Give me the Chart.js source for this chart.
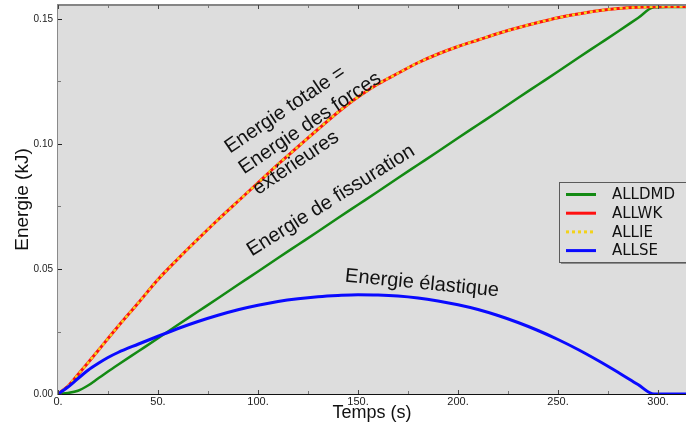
<!DOCTYPE html>
<html lang="fr">
<head>
<meta charset="utf-8">
<title>Energies</title>
<script src="https://cdn.jsdelivr.net/npm/chart.js@4/dist/chart.umd.min.js"></script>
<style>
    html, body { margin: 0; padding: 0; background: #fff; }
    #wrap { width: 686px; height: 427px; position: relative; }
</style>
</head>
<body>
<div id="wrap"><canvas id="energyChart" width="686" height="427"></canvas></div>
<script>
// temps (s)
const timeSteps = [0, 5, 10, 15, 20, 25, 30, 40, 50, 60, 70, 80, 90, 100, 110, 120, 130, 140, 150,
    160, 170, 180, 190, 200, 210, 220, 230, 240, 250, 260, 270, 280, 290, 298, 305, 314];

// énergie de fissuration (kJ)
const damageEnergy = [0, 0.0004, 0.0013, 0.0034, 0.0062, 0.009, 0.0117, 0.017, 0.0223, 0.0277, 0.033,
    0.0383, 0.0437, 0.049, 0.0544, 0.0597, 0.065, 0.0704, 0.0757, 0.081, 0.0864, 0.0917, 0.097, 0.1024,
    0.1077, 0.113, 0.1184, 0.1237, 0.129, 0.1344, 0.1397, 0.145, 0.1504, 0.1547, 0.1548, 0.1548];

// travail des forces extérieures (kJ)
const externalWork = [0, 0.0032, 0.0078, 0.0125, 0.0173, 0.0222, 0.027, 0.0363, 0.0458, 0.0541, 0.062,
    0.0697, 0.0771, 0.0845, 0.0919, 0.0989, 0.1059, 0.1127, 0.1188, 0.124, 0.1283, 0.1325, 0.136, 0.139,
    0.1416, 0.1442, 0.1465, 0.1486, 0.1505, 0.152, 0.1533, 0.1542, 0.1547, 0.1549, 0.155, 0.155];

// énergie interne = énergie totale
const internalEnergy = externalWork;

// énergie élastique (kJ)
const strainEnergy = [0, 0.0028, 0.0062, 0.0095, 0.0122, 0.0146, 0.0166, 0.0199, 0.0231, 0.0262, 0.029,
    0.0315, 0.0337, 0.0355, 0.037, 0.0381, 0.0389, 0.0394, 0.0397, 0.0396, 0.0392, 0.0384, 0.0372, 0.0357,
    0.0338, 0.0314, 0.0286, 0.0254, 0.0218, 0.0178, 0.0134, 0.0087, 0.0038, 0, 0, 0];

const seriesLabels = ['ALLDMD', 'ALLWK', 'ALLIE', 'ALLSE'];
const yTickValues = [0, 0.05, 0.10, 0.15];
const xTickValues = [0, 50, 100, 150, 200, 250, 300];

const notes = [
    { lines: ['Energie totale =', 'Energie des forces', 'extérieures'], t: 86, e: 0.0961, angle: -34, lineGap: 25 },
    { lines: ['Energie de fissuration'], t: 96.9, e: 0.055, angle: -32, lineGap: 0 },
    { lines: ['Energie élastique'], t: 143.3, e: 0.045, angle: 5.5, lineGap: 0 }
];

const PLOT_BG = '#dddddd';

function toPoints(values) {
    return timeSteps.map((t, i) => ({ x: t, y: values[i] }));
}

const plotFrame = {
    id: 'plotFrame',
    beforeDatasetsDraw(chart) {
        const { ctx, chartArea: a } = chart;
        ctx.save();
        ctx.fillStyle = PLOT_BG;
        ctx.fillRect(a.left, a.top, a.right - a.left, a.bottom - a.top);
        ctx.restore();
    },
    afterDatasetsDraw(chart) {
        const { ctx, chartArea: a, scales } = chart;
        ctx.save();
        // bord supérieur
        ctx.strokeStyle = '#858585';
        ctx.lineWidth = 2;
        ctx.beginPath();
        ctx.moveTo(a.left, a.top);
        ctx.lineTo(a.right, a.top);
        ctx.stroke();

        // petites graduations intérieures
        ctx.lineWidth = 1;
        scales.x.ticks.forEach(tick => {
            const px = Math.round(scales.x.getPixelForValue(tick.value)) + 0.5;
            const major = tick.value % 50 === 0;
            ctx.strokeStyle = major ? '#444' : '#777';
            const len = major ? 4 : 3;
            ctx.beginPath();
            ctx.moveTo(px, a.top);
            ctx.lineTo(px, a.top + len);
            ctx.moveTo(px, a.bottom);
            ctx.lineTo(px, a.bottom - len);
            ctx.stroke();
        });
        scales.y.ticks.forEach(tick => {
            const py = Math.round(scales.y.getPixelForValue(tick.value)) + 0.5;
            const major = Math.abs(tick.value * 20 - Math.round(tick.value * 20)) < 1e-6;
            ctx.strokeStyle = major ? '#222' : '#777';
            ctx.beginPath();
            ctx.moveTo(a.left, py);
            ctx.lineTo(a.left + (major ? 4 : 3), py);
            ctx.stroke();
        });
        ctx.restore();
    }
};

const noteLabels = {
    id: 'noteLabels',
    afterDatasetsDraw(chart) {
        const { ctx, scales } = chart;
        ctx.save();
        ctx.fillStyle = '#111';
        ctx.font = '20px "Liberation Sans", Arial, sans-serif';
        ctx.textAlign = 'left';
        ctx.textBaseline = 'alphabetic';
        notes.forEach(note => {
            const x = scales.x.getPixelForValue(note.t);
            const y = scales.y.getPixelForValue(note.e);
            ctx.save();
            ctx.translate(x, y);
            ctx.rotate(note.angle * Math.PI / 180);
            note.lines.forEach((line, i) => ctx.fillText(line, 0, i * note.lineGap));
            ctx.restore();
        });
        ctx.restore();
    }
};

const boxLegend = {
    id: 'boxLegend',
    afterDraw(chart) {
        const { ctx, chartArea: a } = chart;
        const left = a.right - 127;
        const top = 182;
        const width = 140;
        const height = 80;
        ctx.save();
        ctx.fillStyle = '#8c8c8c';
        ctx.fillRect(left + 2, top + 2, width, height);
        ctx.fillStyle = '#dedede';
        ctx.fillRect(left, top, width, height);
        ctx.strokeStyle = '#5a5a5a';
        ctx.lineWidth = 1;
        ctx.strokeRect(left + 0.5, top + 0.5, width, height);

        ctx.font = '15px "DejaVu Sans", sans-serif';
        ctx.textBaseline = 'middle';
        ctx.fillStyle = '#111';
        chart.data.datasets.forEach((ds, i) => {
            const y = top + 12.5 + i * 18.7;
            ctx.save();
            ctx.strokeStyle = ds.borderColor;
            ctx.lineWidth = 3;
            ctx.setLineDash(ds.borderDash || []);
            ctx.beginPath();
            ctx.moveTo(left + 7, y);
            ctx.lineTo(left + 37, y);
            ctx.stroke();
            ctx.restore();
            ctx.fillText(ds.label, left + 53, y + 1);
        });
        ctx.restore();
    }
};

function createEnergyChart(canvas) {
    return new Chart(canvas, {
        type: 'line',
        data: {
            datasets: [
                {
                    label: seriesLabels[0],
                    data: toPoints(damageEnergy),
                    borderColor: '#138a13',
                    borderWidth: 2.5,
                    order: 4
                },
                {
                    label: seriesLabels[1],
                    data: toPoints(externalWork),
                    borderColor: '#ff1010',
                    borderWidth: 3,
                    order: 3
                },
                {
                    label: seriesLabels[2],
                    data: toPoints(internalEnergy),
                    borderColor: '#f2d21a',
                    borderWidth: 2.5,
                    borderDash: [3, 3],
                    order: 2
                },
                {
                    label: seriesLabels[3],
                    data: toPoints(strainEnergy),
                    borderColor: '#0a0aff',
                    borderWidth: 3,
                    order: 1
                }
            ]
        },
        options: {
            responsive: false,
            animation: false,
            layout: { padding: { top: 5, left: 0, right: 0, bottom: 0 } },
            elements: {
                point: { radius: 0 },
                line: { cubicInterpolationMode: 'monotone', fill: false }
            },
            scales: {
                x: {
                    type: 'linear',
                    min: 0,
                    max: 314,
                    grid: { display: false, drawTicks: false },
                    border: { display: true, color: '#111', width: 2 },
                    ticks: {
                        stepSize: 25,
                        autoSkip: false,
                        includeBounds: false,
                        maxRotation: 0,
                        padding: 1,
                        color: '#222',
                        font: { family: '"Liberation Sans", Arial, sans-serif', size: 11 },
                        callback: value => xTickValues.includes(value) ? `${value}.` : ''
                    },
                    title: {
                        display: true,
                        text: 'Temps (s)',
                        color: '#111',
                        font: { family: '"Liberation Sans", Arial, sans-serif', size: 18 },
                        padding: { top: 0, bottom: 3 }
                    },
                    afterFit(scale) {
                        scale.height = 33;
                        scale.paddingLeft = 0;
                        scale.paddingRight = 0;
                    }
                },
                y: {
                    type: 'linear',
                    min: 0,
                    max: 0.1556,
                    grid: { display: false, drawTicks: false },
                    border: { display: true, color: '#8a8a8a', width: 2 },
                    ticks: {
                        stepSize: 0.025,
                        autoSkip: false,
                        includeBounds: false,
                        padding: 5,
                        color: '#222',
                        font: { family: '"Liberation Sans", Arial, sans-serif', size: 10 },
                        callback: value => yTickValues.some(v => Math.abs(v - value) < 1e-6) ? value.toFixed(2) : ''
                    },
                    title: {
                        display: true,
                        text: 'Energie (kJ)',
                        color: '#111',
                        font: { family: '"Liberation Sans", Arial, sans-serif', size: 19 },
                        padding: { top: 11, bottom: 0 }
                    },
                    afterFit(scale) {
                        scale.width = 58;
                        scale.paddingTop = 0;
                        scale.paddingBottom = 0;
                    }
                }
            },
            plugins: {
                legend: { display: false },
                tooltip: { enabled: false }
            }
        },
        plugins: [plotFrame, noteLabels, boxLegend]
    });
}

createEnergyChart(document.getElementById('energyChart'));
</script>
</body>
</html>
